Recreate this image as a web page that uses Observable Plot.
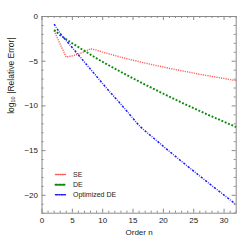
<!DOCTYPE html>
<html><head><meta charset="utf-8">
<script src="https://cdn.jsdelivr.net/npm/d3@7"></script>
<script src="https://cdn.jsdelivr.net/npm/@observablehq/plot@0.6"></script>
<style>
body{margin:0;background:#fff;}
#chart svg{display:block;}
</style>
</head><body><div id="chart"></div>
<script>
// Order n
const orders = [2,3,4,5,6,7,8,9,10,11,12,13,14,15,16,17,18,19,20,21,22,23,24,25,26,27,28,29,30,31,32];
// log10 |Relative Error|
const seValues = [-1.6,-3.1,-4.55,-4.4,-4.2,-3.95,-3.6,-3.77,-3.98,-4.17,-4.36,-4.55,-4.72,-4.89,-5.05,-5.21,-5.36,-5.51,-5.65,-5.8,-5.93,-6.07,-6.2,-6.33,-6.46,-6.58,-6.7,-6.82,-6.94,-7.06,-7.17];
const deValues = [-1.5,-2.1,-2.55,-3.0,-3.42,-3.85,-4.27,-4.68,-5.08,-5.45,-5.83,-6.2,-6.56,-6.92,-7.27,-7.62,-7.96,-8.3,-8.64,-8.97,-9.3,-9.62,-9.94,-10.26,-10.57,-10.88,-11.18,-11.48,-11.78,-12.07,-12.36];
const optDeValues = [-0.85,-1.9,-2.7,-3.5,-4.3,-5.1,-5.9,-6.7,-7.5,-8.3,-9.05,-9.8,-10.6,-11.4,-12.2,-12.8,-13.38,-13.95,-14.52,-15.09,-15.65,-16.2,-16.76,-17.3,-17.84,-18.38,-18.92,-19.45,-19.98,-20.5,-21.05];
const seriesNames = ["SE", "DE", "Optimized DE"];
const xTicks = [0,5,10,15,20,25,30];
const yTicks = [0,-5,-10,-15,-20];
const xLabel = "Order n";
const yLabel = "log\u2081\u2080 |Relative Error|";

const seriesValues = [seValues, deValues, optDeValues];
const styles = [
  {stroke:"#ff5c5c", strokeWidth:1.4, strokeDasharray:"1.2,1.1"},
  {stroke:"#0a8a0a", strokeWidth:1.9, strokeDasharray:"1.9,1.7"},
  {stroke:"#1a1aff", strokeWidth:1.5, strokeDasharray:"2.2,1.3,0.8,1.3"}
];

const W = 249, H = 249;
const mL = 41.5, mR = 13.3, mT = 16, mB = 36.3;
const innerW = W - mL - mR, innerH = H - mT - mB;
const gray = "#8a8a8a";
const font = "Liberation Sans, Arial, Helvetica, sans-serif";

const xMinor = d3.range(0, 33).filter(v => v % 5 !== 0);
const yMinor = d3.range(-22, 1).filter(v => v % 5 !== 0);

const marks = [];
// series lines
seriesValues.forEach((vals, i) => {
  const rows = orders.map((n, j) => ({n, v: vals[j]}));
  marks.push(Plot.line(rows, {x: "n", y: "v", ...styles[i], strokeLinecap: "butt"}));
});
// frame
marks.push(Plot.frame({stroke: gray, strokeWidth: 1}));
// inward ticks on all four sides
const tk = {stroke: gray, strokeWidth: 1};
marks.push(Plot.tickX(xTicks, {x: d => d, insetTop: innerH - 4, ...tk}));
marks.push(Plot.tickX(xTicks, {x: d => d, insetBottom: innerH - 4, ...tk}));
marks.push(Plot.tickX(xMinor, {x: d => d, insetTop: innerH - 2, ...tk}));
marks.push(Plot.tickX(xMinor, {x: d => d, insetBottom: innerH - 2, ...tk}));
marks.push(Plot.tickY(yTicks, {y: d => d, insetRight: innerW - 4, ...tk}));
marks.push(Plot.tickY(yTicks, {y: d => d, insetLeft: innerW - 4, ...tk}));
marks.push(Plot.tickY(yMinor, {y: d => d, insetRight: innerW - 2, ...tk}));
marks.push(Plot.tickY(yMinor, {y: d => d, insetLeft: innerW - 2, ...tk}));
// tick labels
marks.push(Plot.axisX(xTicks, {tickSize: 0, tickPadding: 4, fontSize: 8, label: null, fill: "#222"}));
marks.push(Plot.axisY(yTicks, {tickSize: 0, tickPadding: 4, fontSize: 8, label: null, fill: "#222"}));
// axis titles
marks.push(Plot.text([xLabel], {frameAnchor: "bottom", dy: 19.5, text: d => d, fontSize: 8, fill: "#222", lineAnchor: "middle"}));
marks.push(Plot.text([yLabel], {frameAnchor: "left", dx: -31, dy: -1, rotate: -90, text: d => d, fontSize: 8.5, fill: "#222", lineAnchor: "middle"}));
// legend
const legendDy = [-38.7, -28.4, -18.4];
const lineShape = {draw(context, l) { context.moveTo(0, 0); context.lineTo(0, -l); }};
seriesNames.forEach((name, i) => {
  marks.push(Plot.vector([name], {frameAnchor: "bottom-left", dx: 13.5, dy: legendDy[i], length: 10, rotate: 90, anchor: "start", shape: lineShape, ...styles[i]}));
  marks.push(Plot.text([name], {frameAnchor: "bottom-left", dx: 31, dy: legendDy[i], text: d => d, textAnchor: "start", lineAnchor: "middle", fontSize: 7, fill: "#222"}));
});

const chart = Plot.plot({
  width: W, height: H,
  marginLeft: mL, marginRight: mR, marginTop: mT, marginBottom: mB,
  style: {fontFamily: font, background: "#fff"},
  x: {domain: [0, 32], axis: null},
  y: {domain: [-22, 0], axis: null},
  marks
});
document.getElementById("chart").append(chart);
</script>
</body></html>
